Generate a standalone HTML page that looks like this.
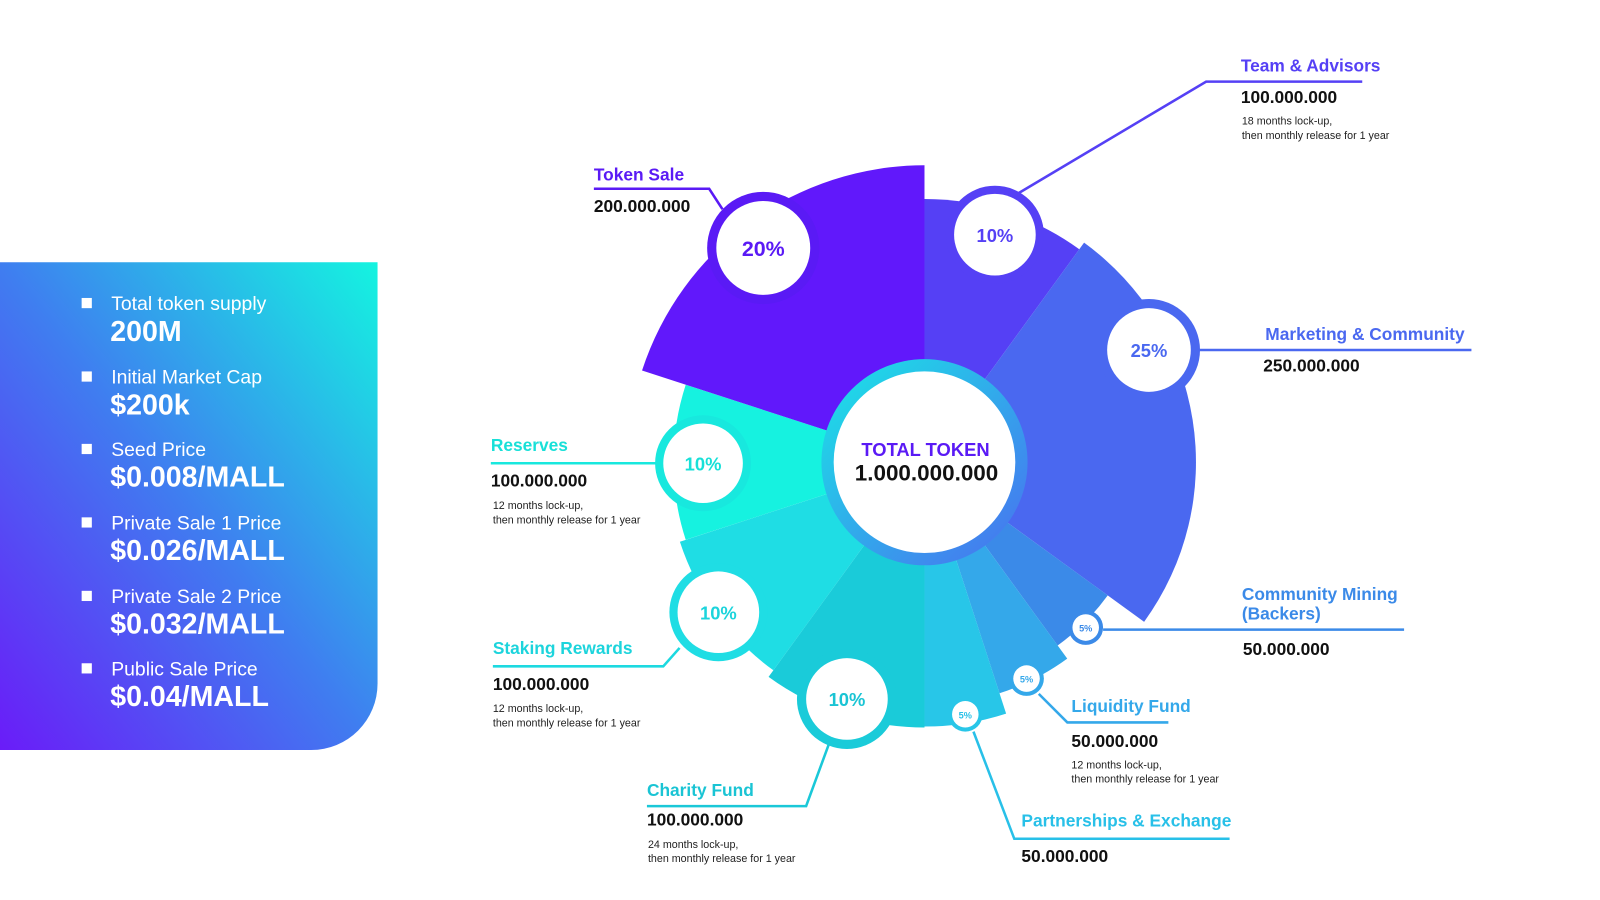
<!DOCTYPE html>
<html><head><meta charset="utf-8"><style>
html,body{margin:0;padding:0;background:#fff;width:1600px;height:900px;overflow:hidden}
svg{display:block;font-family:"Liberation Sans",sans-serif}
</style></head><body>
<svg width="1600" height="900" viewBox="0 0 1568 882" preserveAspectRatio="none">
<defs>
<linearGradient id="pg" x1="0" y1="1" x2="1" y2="0">
<stop offset="0" stop-color="#6a1cf8"/><stop offset="0.5" stop-color="#3f7ef0"/><stop offset="1" stop-color="#14f4e0"/>
</linearGradient>
<linearGradient id="cg" x1="0" y1="0" x2="1" y2="1">
<stop offset="0" stop-color="#19e6e6"/><stop offset="1" stop-color="#4a6ef0"/>
</linearGradient>
</defs>
<path d="M0 257 H370 V670 A65 65 0 0 1 305 735 H0 Z" fill="url(#pg)"/>
<g fill="#fff">
<rect x="80" y="292" width="10" height="10"/><rect x="80" y="364" width="10" height="10"/>
<rect x="80" y="435" width="10" height="10"/><rect x="80" y="507" width="10" height="10"/>
<rect x="80" y="579" width="10" height="10"/><rect x="80" y="650" width="10" height="10"/>
<g font-size="19">
<text x="109" y="304">Total token supply</text>
<text x="109" y="376">Initial Market Cap</text>
<text x="109" y="447">Seed Price</text>
<text x="109" y="519">Private Sale 1 Price</text>
<text x="109" y="591">Private Sale 2 Price</text>
<text x="109" y="662">Public Sale Price</text>
</g>
<g font-size="28" font-weight="bold">
<text x="108" y="334">200M</text>
<text x="108" y="406">$200k</text>
<text x="108" y="477">$0.008/MALL</text>
<text x="108" y="549">$0.026/MALL</text>
<text x="108" y="621">$0.032/MALL</text>
<text x="108" y="692">$0.04/MALL</text>
</g></g>
<path d="M906 453 L906 195 A258 258 0 0 1 1057.7 244.3 Z" fill="#5540f5"/>
<path d="M906 453 L1062.4 237.8 A266 266 0 0 1 1121.2 609.4 Z" fill="#4a68f0"/>
<path d="M906 453 L1085.6 583.5 A222 222 0 0 1 1036.5 632.6 Z" fill="#3b8ae8"/>
<path d="M906 453 L1045.9 645.5 A238 238 0 0 1 979.5 679.4 Z" fill="#34a8ea"/>
<path d="M906 453 L986 699.3 A259 259 0 0 1 906 712 Z" fill="#28c6e8"/>
<path d="M906 453 L906 713 A260 260 0 0 1 753.2 663.3 Z" fill="#1acbd9"/>
<path d="M906 453 L757.9 656.9 A252 252 0 0 1 666.3 530.9 Z" fill="#1fdde4"/>
<path d="M906 453 L672 529 A246 246 0 0 1 672 377 Z" fill="#16f2e0"/>
<path d="M906 453 L629.2 363.1 A291 291 0 0 1 906 162 Z" fill="#6118fb"/>
<circle cx="906" cy="453" r="101" fill="url(#cg)"/>
<circle cx="906" cy="453" r="89" fill="#fff"/>
<text x="907" y="447" text-anchor="middle" font-size="18" font-weight="bold" fill="#5a1af5">TOTAL TOKEN</text>
<text x="908" y="471" text-anchor="middle" font-size="22" font-weight="bold" fill="#111">1.000.000.000</text>
<g fill="none" stroke-width="2.5">
<polyline points="997,190 1182,80 1335,80" stroke="#5540f5"/>
<polyline points="708,205 695,185 582,185" stroke="#5a1af5"/>
<polyline points="1172,343 1442,343" stroke="#4a68f0"/>
<polyline points="645,454 481,454" stroke="#18e8de"/>
<polyline points="666,635 650,653 483,653" stroke="#1cd9e0"/>
<polyline points="812,730 790,790 634,790" stroke="#1ac8d8"/>
<polyline points="1081,617 1376,617" stroke="#3b8ae8"/>
<polyline points="1018,680 1046,708 1145,708" stroke="#34a8ea"/>
<polyline points="954,717 994,822 1205,822" stroke="#28c0e8"/>
</g>
<g font-weight="bold" text-anchor="middle">
<circle cx="748" cy="243" r="55" fill="#5a1af5"/><circle cx="748" cy="243" r="46" fill="#fff"/>
<text x="748" y="251" font-size="21" fill="#5a1af5">20%</text>
<circle cx="975" cy="230" r="48" fill="#5540f5"/><circle cx="975" cy="230" r="40" fill="#fff"/>
<text x="975" y="237" font-size="18" fill="#5540f5">10%</text>
<circle cx="1126" cy="343" r="50" fill="#4a68f0"/><circle cx="1126" cy="343" r="41" fill="#fff"/>
<text x="1126" y="350" font-size="18" fill="#4a68f0">25%</text>
<circle cx="689" cy="454" r="47" fill="#18e8de"/><circle cx="689" cy="454" r="39" fill="#fff"/>
<text x="689" y="461" font-size="18" fill="#18e0d8">10%</text>
<circle cx="704" cy="600" r="48" fill="#1fdde4"/><circle cx="704" cy="600" r="40" fill="#fff"/>
<text x="704" y="607" font-size="18" fill="#1cd4dc">10%</text>
<circle cx="830" cy="685" r="49" fill="#1acbd9"/><circle cx="830" cy="685" r="40" fill="#fff"/>
<text x="830" y="692" font-size="18" fill="#1ac4d4">10%</text>
<circle cx="1064" cy="615" r="17" fill="#3b8ae8"/><circle cx="1064" cy="615" r="13" fill="#fff"/>
<text x="1064" y="619" font-size="9" fill="#3b8ae8">5%</text>
<circle cx="1006" cy="665" r="17" fill="#34a8ea"/><circle cx="1006" cy="665" r="13" fill="#fff"/>
<text x="1006" y="669" font-size="9" fill="#34a8ea">5%</text>
<circle cx="946" cy="700" r="17" fill="#28c6e8"/><circle cx="946" cy="700" r="13" fill="#fff"/>
<text x="946" y="704" font-size="9" fill="#28c0e8">5%</text>
</g>
<g font-weight="bold" font-size="17">
<text x="1216" y="70" fill="#5540f5">Team &amp; Advisors</text>
<text x="582" y="177" fill="#5a1af5">Token Sale</text>
<text x="1240" y="333" fill="#4a68f0">Marketing &amp; Community</text>
<text x="481" y="442" fill="#18e0d8">Reserves</text>
<text x="483" y="641" fill="#1cd4dc">Staking Rewards</text>
<text x="634" y="780" fill="#1ac4d4">Charity Fund</text>
<text x="1217" y="588" fill="#3b8ae8">Community Mining</text>
<text x="1217" y="607" fill="#3b8ae8">(Backers)</text>
<text x="1050" y="698" fill="#34a8ea">Liquidity Fund</text>
<text x="1001" y="810" fill="#28c0e8">Partnerships &amp; Exchange</text>
</g>
<g font-weight="bold" font-size="17" fill="#111">
<text x="1216" y="101">100.000.000</text>
<text x="582" y="208">200.000.000</text>
<text x="1238" y="364">250.000.000</text>
<text x="481" y="477">100.000.000</text>
<text x="483" y="676">100.000.000</text>
<text x="634" y="809">100.000.000</text>
<text x="1218" y="642">50.000.000</text>
<text x="1050" y="732">50.000.000</text>
<text x="1001" y="845">50.000.000</text>
</g>
<g font-size="10.5" fill="#222">
<text x="1217" y="122">18 months lock-up,</text><text x="1217" y="136">then monthly release for 1 year</text>
<text x="483" y="499">12 months lock-up,</text><text x="483" y="513">then monthly release for 1 year</text>
<text x="483" y="698">12 months lock-up,</text><text x="483" y="712">then monthly release for 1 year</text>
<text x="635" y="831">24 months lock-up,</text><text x="635" y="845">then monthly release for 1 year</text>
<text x="1050" y="753">12 months lock-up,</text><text x="1050" y="767">then monthly release for 1 year</text>
</g>
</svg>
</body></html>
